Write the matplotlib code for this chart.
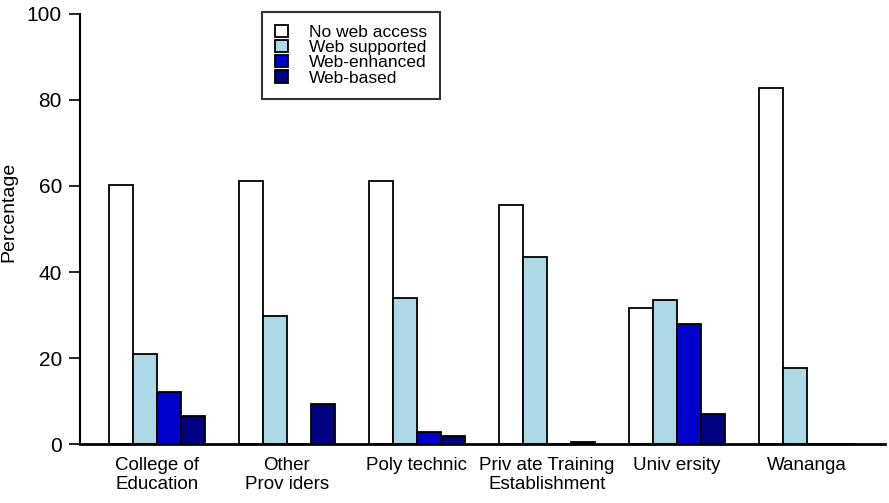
import numpy as np
import matplotlib
matplotlib.use("Agg")
import matplotlib.pyplot as plt

plt.rcParams['font.family'] = ['Liberation Sans', 'DejaVu Sans']

categories = ["College of\nEducation", "Other\nProv iders", "Poly technic",
              "Priv ate Training\nEstablishment", "Univ ersity", "Wananga"]
series = ["No web access", "Web supported", "Web-enhanced", "Web-based"]
no_web = [60.2, 61.2, 61.2, 55.6, 31.7, 82.9]
web_supported = [20.9, 29.8, 34.0, 43.5, 33.5, 17.7]
web_enhanced = [12.0, 0.0, 2.8, 0.0, 28.0, 0.0]
web_based = [6.6, 9.3, 1.9, 0.4, 7.0, 0.0]
colors = ["#FFFFFF", "#ADD8E6", "#0000CC", "#000080"]

values = [no_web, web_supported, web_enhanced, web_based]

fig = plt.figure(figsize=(8.89, 5.03), dpi=100)
ax = fig.add_axes([80 / 889, 59 / 503, 805 / 889, 430 / 503])

x = np.arange(len(categories))
w = 24 / 130
for k, (name, vals, c) in enumerate(zip(series, values, colors)):
    ax.bar(x + (k - 1.5) * w, vals, width=w, color=c, edgecolor="black",
           linewidth=1.3, label=name, zorder=2)

ax.set_xlim(-0.592, 5.6)
ax.set_ylim(0, 100)
ax.set_yticks([0, 20, 40, 60, 80, 100])
ax.set_xticks(x)
ax.set_xticklabels(categories, fontsize=13.5, linespacing=1.2)
ax.tick_params(axis="x", length=0, pad=9)
ax.tick_params(axis="y", labelsize=15, length=8, width=1.2, direction="out", pad=5)
ax.set_ylabel("Percentage", fontsize=14)
ax.yaxis.set_label_coords(-0.078, 0.54)
for s in ("top", "right"):
    ax.spines[s].set_visible(False)
ax.spines["left"].set_linewidth(1.5)
ax.spines["bottom"].set_linewidth(2)

leg = fig.legend(loc="upper left", bbox_to_anchor=(262 / 889, 1 - 12 / 503),
                 borderaxespad=0, fontsize=12.5, frameon=True, fancybox=False,
                 edgecolor="black", handlelength=0.75, handleheight=0.7,
                 handletextpad=1.2, labelspacing=0.0, borderpad=0.75)
leg.get_frame().set_linewidth(1.5)

fig.savefig("out.png", dpi=100)
